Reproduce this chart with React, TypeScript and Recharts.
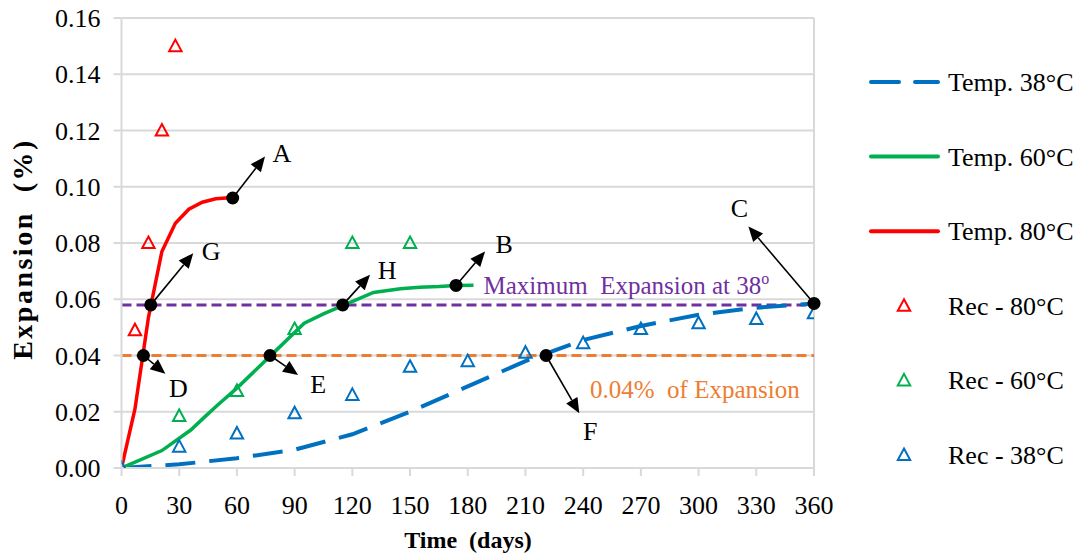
import React from 'react';
import {
  ComposedChart,
  Line,
  Scatter,
  XAxis,
  YAxis,
  CartesianGrid,
  ReferenceLine,
  ReferenceDot,
  Label,
} from 'recharts';

const FONT = "'Times New Roman', 'Liberation Serif', serif";
const BLUE = '#0070C0';
const GREEN = '#00B050';
const RED = '#FF0000';
const PURPLE = '#7030A0';
const ORANGE = '#ED7D31';
const GRID = '#D9D9D9';

const xTicks = [0, 30, 60, 90, 120, 150, 180, 210, 240, 270, 300, 330, 360];
const yTicks = [0, 0.02, 0.04, 0.06, 0.08, 0.1, 0.12, 0.14, 0.16];

// model curves (days, expansion %)
const temp38 = [
  { day: 0, exp: 0 }, { day: 30, exp: 0.0013 }, { day: 60, exp: 0.0035 },
  { day: 90, exp: 0.0065 }, { day: 120, exp: 0.012 }, { day: 150, exp: 0.02 },
  { day: 180, exp: 0.029 }, { day: 210, exp: 0.038 }, { day: 240, exp: 0.0455 },
  { day: 270, exp: 0.0505 }, { day: 300, exp: 0.0545 }, { day: 330, exp: 0.057 },
  { day: 360, exp: 0.0585 },
];

const temp60 = [
  { day: 0, exp: 0 }, { day: 21, exp: 0.0062 }, { day: 36, exp: 0.0135 },
  { day: 43, exp: 0.018 }, { day: 50, exp: 0.0224 }, { day: 60, exp: 0.0284 },
  { day: 77, exp: 0.0396 }, { day: 95, exp: 0.0515 }, { day: 105, exp: 0.0548 },
  { day: 115, exp: 0.0577 }, { day: 131, exp: 0.0624 }, { day: 145, exp: 0.0637 },
  { day: 155, exp: 0.0643 }, { day: 165, exp: 0.0645 }, { day: 174, exp: 0.0649 },
  { day: 183, exp: 0.065 },
];

const temp80 = [
  { day: 0, exp: 0 }, { day: 7, exp: 0.021 }, { day: 14, exp: 0.0535 },
  { day: 21, exp: 0.077 }, { day: 28, exp: 0.087 }, { day: 35, exp: 0.092 },
  { day: 42, exp: 0.0945 }, { day: 49, exp: 0.0957 }, { day: 57.8, exp: 0.0962 },
];

// recorded values
const rec80 = [
  { day: 7, exp: 0.049 }, { day: 14, exp: 0.08 }, { day: 21, exp: 0.12 }, { day: 28, exp: 0.15 },
];
const rec60 = [
  { day: 30, exp: 0.0185 }, { day: 60, exp: 0.0274 }, { day: 90, exp: 0.0494 },
  { day: 120, exp: 0.08 }, { day: 150, exp: 0.08 },
];
const rec38 = [
  { day: 0, exp: 0 }, { day: 30, exp: 0.0076 }, { day: 60, exp: 0.0123 },
  { day: 90, exp: 0.0195 }, { day: 120, exp: 0.026 }, { day: 150, exp: 0.036 },
  { day: 180, exp: 0.038 }, { day: 210, exp: 0.041 }, { day: 240, exp: 0.0444 },
  { day: 270, exp: 0.0494 }, { day: 300, exp: 0.0515 }, { day: 330, exp: 0.053 },
  { day: 360, exp: 0.055 },
];

const maxExp38 = 0.058;
const limitExp = 0.04;

// annotated points: dot, arrow tip, label offset
const marks = [
  { label: 'A', at: [57.8, 0.096], tip: [74.6, 0.1108], dx: 17, dy: -3 },
  { label: 'B', at: [173.9, 0.0649], tip: [189, 0.077], dx: 19, dy: -7 },
  { label: 'C', at: [360, 0.0585], tip: [325.9, 0.0859], dx: -9, dy: -18 },
  { label: 'D', at: [11.4, 0.04], tip: [22.8, 0.0335], dx: 13, dy: 15 },
  { label: 'E', at: [77.2, 0.04], tip: [91.8, 0.0331], dx: 20, dy: 10 },
  { label: 'F', at: [220.7, 0.04], tip: [238, 0.0195], dx: 11, dy: 18 },
  { label: 'G', at: [15.2, 0.058], tip: [37.3, 0.0764], dx: 18, dy: -2 },
  { label: 'H', at: [115, 0.058], tip: [129.2, 0.0687], dx: 17, dy: -4 },
];

const legendItems = [
  { name: 'Temp. 38°C', kind: 'dash', color: BLUE },
  { name: 'Temp. 60°C', kind: 'line', color: GREEN },
  { name: 'Temp. 80°C', kind: 'line', color: RED },
  { name: 'Rec - 80°C', kind: 'tri', color: RED },
  { name: 'Rec - 60°C', kind: 'tri', color: GREEN },
  { name: 'Rec - 38°C', kind: 'tri', color: BLUE },
];

const triPath = (cx: number, cy: number) =>
  `M${cx},${cy - 6.5} L${cx + 6.2},${cy + 5} L${cx - 6.2},${cy + 5} Z`;

const triangle = (color: string) => (props: any) => {
  const { cx, cy } = props;
  if (cx == null || cy == null) return <g />;
  return <path d={triPath(cx, cy)} fill="none" stroke={color} strokeWidth={2} />;
};

const arrow = (label: string, dx: number, dy: number) => (p: any) => {
  const { x1, y1, x2, y2 } = p;
  const ang = Math.atan2(y2 - y1, x2 - x1);
  const hl = 15;
  const hw = 6.5;
  const c = Math.cos(ang);
  const s = Math.sin(ang);
  const bx = x2 - hl * c;
  const by = y2 - hl * s;
  const pts = `${x2},${y2} ${bx + hw * s},${by - hw * c} ${bx - hw * s},${by + hw * c}`;
  return (
    <g>
      <line x1={x1} y1={y1} x2={bx} y2={by} stroke="#000" strokeWidth={1.6} />
      <polygon points={pts} fill="#000" />
      <text
        x={x2 + dx}
        y={y2 + dy}
        textAnchor="middle"
        dominantBaseline="central"
        fontFamily={FONT}
        fontSize={26}
        fill="#000"
      >
        {label}
      </text>
    </g>
  );
};

function LegendBox() {
  return (
    <svg width={231} height={554} style={{ position: 'absolute', left: 850, top: 0 }}>
      {legendItems.map((it, i) => {
        const y = 82 + i * 74.6;
        return (
          <g key={it.name}>
            {it.kind === 'tri' ? (
              <path d={triPath(54, y)} fill="none" stroke={it.color} strokeWidth={2} />
            ) : (
              <line
                x1={21}
                y1={y}
                x2={88}
                y2={y}
                stroke={it.color}
                strokeWidth={4}
                strokeLinecap="round"
                strokeDasharray={it.kind === 'dash' ? '28 16' : undefined}
              />
            )}
            <text x={98} y={y + 9} fontFamily={FONT} fontSize={26} fill="#000">
              {it.name}
            </text>
          </g>
        );
      })}
    </svg>
  );
}

export default function App() {
  return (
    <div style={{ position: 'absolute', left: 0, top: 0, width: 1081, height: 554, background: '#fff' }}>
      <ComposedChart
        width={1081}
        height={554}
        margin={{ top: 18, right: 267, bottom: 0, left: 0 }}
      >
        <CartesianGrid horizontal vertical={false} stroke={GRID} strokeWidth={2} />
        <XAxis
          type="number"
          dataKey="day"
          domain={[0, 360]}
          ticks={xTicks}
          height={86}
          stroke={GRID}
          strokeWidth={2}
          tickSize={8}
          tickMargin={20}
          tick={{ fill: '#000', fontFamily: FONT, fontSize: 26 }}
          allowDataOverflow
        >
          <Label
            content={() => (
              <text
                x={468}
                y={548}
                textAnchor="middle"
                fontFamily={FONT}
                fontSize={24}
                fontWeight="bold"
                fill="#000"
                style={{ whiteSpace: 'pre' }}
              >
                {'Time  (days)'}
              </text>
            )}
          />
        </XAxis>
        <YAxis
          type="number"
          dataKey="exp"
          domain={[0, 0.16]}
          ticks={yTicks}
          width={121.5}
          stroke={GRID}
          strokeWidth={2}
          tickSize={8}
          tickMargin={13}
          tickFormatter={(v: number) => v.toFixed(2)}
          tick={{ fill: '#000', fontFamily: FONT, fontSize: 26 }}
          allowDataOverflow
        >
          <Label
            content={() => (
              <text
                x={32}
                y={249}
                textAnchor="middle"
                transform="rotate(-90 32 249)"
                fontFamily={FONT}
                fontSize={28}
                fontWeight="bold"
                letterSpacing={2.5}
                fill="#000"
                style={{ whiteSpace: 'pre' }}
              >
                {'Expansion  (%)'}
              </text>
            )}
          />
        </YAxis>
        <ReferenceLine x={360} stroke={GRID} strokeWidth={2} />
        <ReferenceLine y={maxExp38} stroke={PURPLE} strokeWidth={3} strokeDasharray="10 5">
          <Label
            content={(p: any) => (
              <text
                x={p.viewBox.x + 362}
                y={p.viewBox.y - 11}
                fontFamily={FONT}
                fontSize={25}
                fill={PURPLE}
                style={{ whiteSpace: 'pre' }}
              >
                {'Maximum  Expansion at 38'}
                <tspan fontSize={16} dy={-10}>o</tspan>
              </text>
            )}
          />
        </ReferenceLine>
        <ReferenceLine y={limitExp} stroke={ORANGE} strokeWidth={3} strokeDasharray="10 5">
          <Label
            content={(p: any) => (
              <text
                x={p.viewBox.x + 468.5}
                y={p.viewBox.y + 42}
                fontFamily={FONT}
                fontSize={25}
                fill={ORANGE}
                style={{ whiteSpace: 'pre' }}
              >
                {'0.04%  of Expansion'}
              </text>
            )}
          />
        </ReferenceLine>
        <Line
          data={temp38}
          dataKey="exp"
          type="linear"
          stroke={BLUE}
          strokeWidth={4}
          strokeDasharray="30 14"
          dot={false}
          activeDot={false}
          isAnimationActive={false}
        />
        <Line
          data={temp60}
          dataKey="exp"
          type="linear"
          stroke={GREEN}
          strokeWidth={3.5}
          dot={false}
          activeDot={false}
          isAnimationActive={false}
        />
        <Line
          data={temp80}
          dataKey="exp"
          type="linear"
          stroke={RED}
          strokeWidth={3.5}
          dot={false}
          activeDot={false}
          isAnimationActive={false}
        />
        <Scatter data={rec80} dataKey="exp" shape={triangle(RED)} isAnimationActive={false} />
        <Scatter data={rec60} dataKey="exp" shape={triangle(GREEN)} isAnimationActive={false} />
        <Scatter data={rec38} dataKey="exp" shape={triangle(BLUE)} isAnimationActive={false} />
        {marks.map((m) => (
          <ReferenceLine
            key={'a' + m.label}
            segment={[
              { x: m.at[0], y: m.at[1] },
              { x: m.tip[0], y: m.tip[1] },
            ]}
            ifOverflow="visible"
            shape={arrow(m.label, m.dx, m.dy)}
          />
        ))}
        {marks.map((m) => (
          <ReferenceDot
            key={'d' + m.label}
            x={m.at[0]}
            y={m.at[1]}
            r={6.5}
            fill="#000"
            stroke="none"
            ifOverflow="visible"
          />
        ))}
      </ComposedChart>
      <LegendBox />
    </div>
  );
}
